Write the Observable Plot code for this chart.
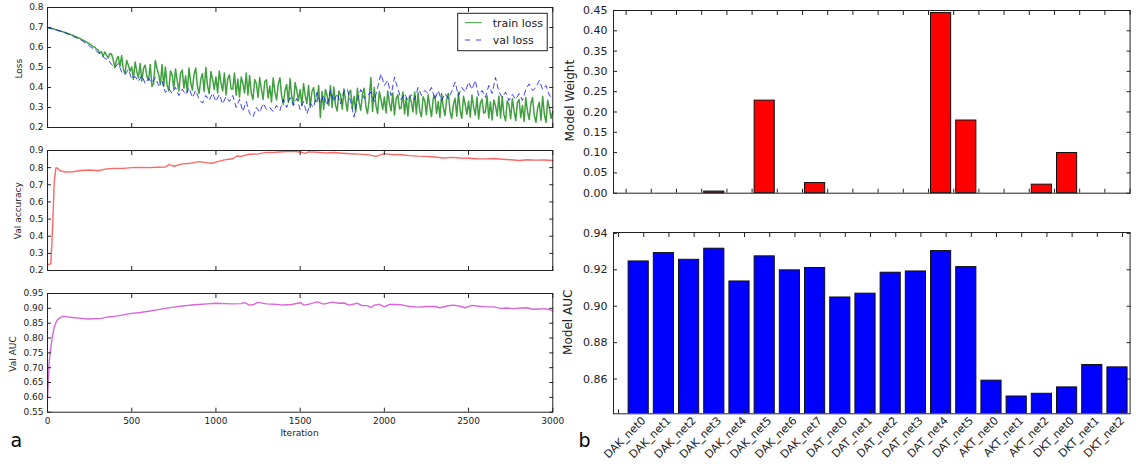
<!DOCTYPE html>
<html><head><meta charset="utf-8">
<script src="https://cdn.jsdelivr.net/npm/d3@7"></script>
<script src="https://cdn.jsdelivr.net/npm/@observablehq/plot@0.6"></script>
<style>
body{margin:0;background:#fff;}
#wrap{position:relative;width:1136px;height:466px;overflow:hidden;font-family:"DejaVu Sans",sans-serif;color:#222;background:#fff;}
#wrap svg{position:absolute;max-width:none;overflow:visible;}
</style></head><body><div id="wrap"></div>
<script>
// ---------- data ----------
const trainStep = 10;
const trainLoss = [
 0.700,0.698,0.696,0.694,0.692,0.689,0.687,0.684,0.682,0.679,
 0.676,0.674,0.670,0.668,0.664,0.661,0.657,0.654,0.649,0.647,
 0.641,0.637,0.633,0.627,0.624,0.616,0.613,0.604,0.602,0.592,
 0.588,0.572,0.580,0.556,0.578,0.562,0.548,0.570,0.566,0.538,
 0.499,0.541,0.555,0.505,0.560,0.493,0.469,0.535,0.511,0.481,
 0.504,0.440,0.528,0.480,0.448,0.520,0.432,0.496,0.512,0.456,
 0.435,0.515,0.405,0.420,0.535,0.495,0.465,0.415,0.515,0.405,
 0.503,0.413,0.383,0.483,0.463,0.393,0.493,0.433,0.383,0.473,
 0.487,0.397,0.457,0.377,0.497,0.427,0.387,0.467,0.497,0.407,
 0.370,0.440,0.470,0.380,0.500,0.410,0.370,0.480,0.440,0.390,
 0.453,0.373,0.483,0.423,0.383,0.473,0.363,0.443,0.463,0.393,
 0.392,0.472,0.362,0.442,0.352,0.452,0.422,0.372,0.472,0.362,
 0.460,0.370,0.340,0.440,0.420,0.350,0.450,0.390,0.340,0.430,
 0.438,0.348,0.408,0.328,0.448,0.378,0.338,0.418,0.448,0.358,
 0.315,0.385,0.415,0.325,0.445,0.355,0.315,0.425,0.385,0.335,
 0.390,0.310,0.420,0.360,0.320,0.410,0.300,0.380,0.400,0.330,
 0.330,0.410,0.250,0.380,0.290,0.390,0.360,0.310,0.410,0.300,
 0.402,0.312,0.282,0.382,0.362,0.292,0.392,0.332,0.282,0.372,
 0.386,0.296,0.356,0.276,0.396,0.326,0.286,0.366,0.396,0.306,
 0.270,0.340,0.450,0.280,0.400,0.310,0.270,0.380,0.340,0.290,
 0.353,0.273,0.383,0.323,0.283,0.373,0.263,0.343,0.363,0.293,
 0.298,0.378,0.268,0.348,0.258,0.358,0.328,0.278,0.378,0.268,
 0.374,0.284,0.254,0.354,0.334,0.264,0.364,0.304,0.254,0.344,
 0.360,0.270,0.330,0.250,0.370,0.300,0.260,0.340,0.370,0.280,
 0.246,0.316,0.346,0.256,0.376,0.286,0.246,0.356,0.316,0.266,
 0.332,0.252,0.362,0.302,0.262,0.352,0.242,0.322,0.342,0.272,
 0.278,0.358,0.248,0.328,0.238,0.338,0.308,0.258,0.358,0.248,
 0.354,0.264,0.234,0.334,0.314,0.244,0.344,0.284,0.234,0.324,
 0.340,0.250,0.310,0.230,0.350,0.280,0.240,0.320,0.350,0.260,
 0.226,0.296,0.326,0.236,0.356,0.266,0.226,0.336,0.296,0.246,
 0.280];
const valStep = 20;
const valLoss = [0.700,0.696,0.692,0.686,0.680,0.674,0.668,0.661,0.652,0.645,
 0.636,0.625,0.613,0.600,0.590,0.575,0.565,0.545,0.540,0.515,
 0.500,0.520,0.478,0.465,0.490,0.443,0.455,0.430,0.460,0.420,
 0.445,0.425,0.450,0.410,0.430,0.375,0.395,0.370,0.400,0.360,
 0.392,0.365,0.398,0.350,0.385,0.340,0.322,0.360,0.335,0.372,
 0.330,0.365,0.318,0.355,0.330,0.360,0.300,0.340,0.280,0.330,
 0.270,0.252,0.300,0.275,0.320,0.290,0.300,0.280,0.310,0.285,
 0.340,0.300,0.350,0.310,0.345,0.290,0.330,0.268,0.320,0.300,
 0.375,0.320,0.360,0.310,0.385,0.330,0.370,0.318,0.380,0.393,
 0.330,0.252,0.340,0.390,0.345,0.360,0.377,0.330,0.400,0.468,
 0.410,0.435,0.360,0.452,0.393,0.340,0.370,0.335,0.365,0.340,
 0.400,0.360,0.385,0.370,0.400,0.340,0.385,0.335,0.370,0.345,
 0.380,0.427,0.360,0.400,0.377,0.427,0.390,0.435,0.360,0.385,
 0.350,0.410,0.370,0.450,0.380,0.350,0.377,0.335,0.365,0.340,
 0.370,0.335,0.390,0.418,0.385,0.400,0.435,0.390,0.410,0.360,
 0.350];
const accIter = [0,10,20,30,40,50,60,75,100,150,200,250,300,350,400,450,500,550,600,650,700,720,750,800,850,900,950,975,1000,1050,1100,1125,1150,1200,1250,1300,1350,1400,1450,1500,1530,1550,1600,1650,1700,1750,1800,1850,1900,1950,2000,2050,2100,2150,2200,2250,2300,2350,2400,2450,2500,2550,2600,2650,2700,2750,2800,2850,2900,2950,3000];
const accVal = [0.235,0.235,0.240,0.450,0.720,0.800,0.795,0.782,0.775,0.776,0.783,0.786,0.782,0.793,0.796,0.796,0.800,0.801,0.800,0.802,0.804,0.818,0.808,0.822,0.826,0.835,0.828,0.824,0.832,0.845,0.852,0.868,0.866,0.878,0.880,0.889,0.890,0.893,0.895,0.891,0.883,0.892,0.890,0.886,0.888,0.884,0.881,0.879,0.876,0.866,0.882,0.876,0.875,0.870,0.867,0.866,0.862,0.856,0.860,0.856,0.855,0.852,0.851,0.853,0.849,0.846,0.842,0.846,0.844,0.845,0.842];
const aucIter = [0,5,10,20,30,40,50,60,75,90,110,150,200,240,280,320,360,400,450,500,550,600,650,700,750,800,850,900,950,1000,1050,1100,1150,1170,1200,1225,1250,1300,1350,1400,1450,1500,1525,1560,1600,1640,1690,1730,1760,1790,1840,1870,1900,1920,1940,1970,2000,2030,2070,2110,2150,2200,2250,2300,2330,2370,2410,2450,2480,2520,2560,2600,2650,2690,2730,2770,2810,2850,2880,2920,2950,2980,3000];
const aucVal = [0.595,0.660,0.720,0.770,0.810,0.837,0.852,0.862,0.869,0.873,0.872,0.869,0.866,0.864,0.865,0.866,0.871,0.873,0.878,0.883,0.886,0.890,0.895,0.900,0.904,0.908,0.911,0.913,0.915,0.917,0.916,0.915,0.916,0.919,0.911,0.913,0.920,0.915,0.914,0.911,0.913,0.919,0.911,0.915,0.922,0.914,0.921,0.917,0.918,0.911,0.917,0.909,0.909,0.902,0.911,0.913,0.905,0.913,0.913,0.911,0.906,0.904,0.906,0.906,0.902,0.908,0.911,0.907,0.902,0.910,0.907,0.905,0.905,0.900,0.901,0.899,0.901,0.902,0.897,0.898,0.899,0.896,0.891];

const modelNames = ["DAK_net0","DAK_net1","DAK_net2","DAK_net3","DAK_net4","DAK_net5","DAK_net6","DAK_net7","DAT_net0","DAT_net1","DAT_net2","DAT_net3","DAT_net4","DAT_net5","AKT_net0","AKT_net1","AKT_net2","DKT_net0","DKT_net1","DKT_net2"];
const modelWeight = [0,0,0,0.004,0,0.228,0,0.025,0,0,0,0,0.444,0.179,0,0,0.021,0.099,0,0];
const modelAUC = [0.9246,0.9292,0.9255,0.9316,0.9136,0.9274,0.9197,0.9210,0.9048,0.9069,0.9184,0.9191,0.9303,0.9215,0.8591,0.8504,0.8519,0.8554,0.8677,0.8664];

const iterTicks = [0,500,1000,1500,2000,2500,3000];
const lossTicks = [0.2,0.3,0.4,0.5,0.6,0.7,0.8];
const accTicks = [0.2,0.3,0.4,0.5,0.6,0.7,0.8,0.9];
const aucTicks = [0.55,0.60,0.65,0.70,0.75,0.80,0.85,0.90,0.95];
const weightTicks = [0,0.05,0.10,0.15,0.20,0.25,0.30,0.35,0.40,0.45];
const modelAucTicks = [0.86,0.88,0.90,0.92,0.94];

// ---------- helpers ----------
const wrap = document.getElementById("wrap");
const edge = "#222";
function panel(box, opts) {
  const {x0, x1, y0, y1, mL, mR, mT, mB, fs} = box;
  const svg = Plot.plot({
    width: x1 - x0 + mL + mR, height: y1 - y0 + mT + mB,
    marginLeft: mL, marginRight: mR, marginTop: mT, marginBottom: mB,
    style: {background: "transparent", fontFamily: "DejaVu Sans, sans-serif", fontSize: fs + "px", color: "#222", overflow: "visible"},
    ...opts
  });
  svg.style.left = (x0 - mL) + "px";
  svg.style.top = (y0 - mT) + "px";
  wrap.appendChild(svg);
}
const blank = () => "";
function inward(xt, yt) {
  return [
    Plot.axisX(xt, {anchor: "bottom", tickSize: -4, tickFormat: blank, label: null, stroke: edge}),
    Plot.axisX(xt, {anchor: "top", tickSize: -4, tickFormat: blank, label: null, stroke: edge}),
    Plot.axisY(yt, {anchor: "left", tickSize: -4, tickFormat: blank, label: null, stroke: edge}),
    Plot.axisY(yt, {anchor: "right", tickSize: -4, tickFormat: blank, label: null, stroke: edge}),
    Plot.frame({stroke: edge, strokeWidth: 1})
  ];
}
const trainData = trainLoss.map((v, i) => ({it: i * trainStep, v}));
const valData = valLoss.map((v, i) => ({it: i * valStep, v}));
const accData = accIter.map((it, i) => ({it, v: accVal[i]}));
const aucData = aucIter.map((it, i) => ({it, v: aucVal[i]}));
const rows = modelNames.map((name, i) => ({name, i, w: modelWeight[i], auc: modelAUC[i]}));

// ---------- panel a ----------
const leftX = {x0: 46.7, x1: 552, mL: 40, mR: 8, fs: 9};
panel({...leftX, y0: 7, y1: 127, mT: 6, mB: 6}, {
  x: {domain: [0, 3000]}, y: {domain: [0.2, 0.8]},
  marks: [
    Plot.line(trainData, {x: "it", y: "v", stroke: "#008000", strokeOpacity: 0.75, strokeWidth: 1.5}),
    Plot.line(valData, {x: "it", y: "v", stroke: "#0000ff", strokeOpacity: 0.75, strokeWidth: 1, strokeDasharray: "5,4"}),
    Plot.axisY(lossTicks, {anchor: "left", tickSize: 0, tickPadding: 4, tickFormat: d3.format(".1f"), label: null}),
    ...inward(iterTicks, lossTicks)
  ]
});
panel({...leftX, y0: 150, y1: 270, mT: 6, mB: 6}, {
  x: {domain: [0, 3000]}, y: {domain: [0.2, 0.9]},
  marks: [
    Plot.line(accData, {x: "it", y: "v", stroke: "#ff0000", strokeOpacity: 0.6, strokeWidth: 1.4}),
    Plot.axisY(accTicks, {anchor: "left", tickSize: 0, tickPadding: 4, tickFormat: d3.format(".1f"), label: null}),
    ...inward(iterTicks, accTicks)
  ]
});
panel({...leftX, y0: 293.3, y1: 412, mT: 6, mB: 24}, {
  x: {domain: [0, 3000]}, y: {domain: [0.55, 0.95]},
  marks: [
    Plot.line(aucData, {x: "it", y: "v", stroke: "#bf00bf", strokeOpacity: 0.6, strokeWidth: 1.4}),
    Plot.axisY(aucTicks, {anchor: "left", tickSize: 0, tickPadding: 4, tickFormat: d3.format(".2f"), label: null}),
    Plot.axisX(iterTicks, {anchor: "bottom", tickSize: 0, tickPadding: 5, tickFormat: d3.format("d"), label: null}),
    ...inward(iterTicks, aucTicks)
  ]
});

// ---------- panel b ----------
const rightX = {x0: 612.7, x1: 1129.3, mL: 52, mR: 6, fs: 11};
const xDom = [-1, 19.5];
const midTicks = d3.range(-0.5, 19.6, 1);
const barTicks = d3.range(-0.8, 19.3, 1);
const labelTicks = rows.map(d => d.i + 0.2);
panel({...rightX, y0: 10, y1: 192.7, mT: 6, mB: 6}, {
  x: {domain: xDom}, y: {domain: [0, 0.45]},
  marks: [
    Plot.rect(rows.filter(d => d.w > 0), {x1: d => d.i - 0.4, x2: d => d.i + 0.4, y1: 0, y2: "w", fill: "#ff0000", stroke: "#111", strokeWidth: 1}),
    Plot.axisY(weightTicks, {anchor: "left", tickSize: 0, tickPadding: 6, tickFormat: d3.format(".2f"), label: null}),
    ...inward(midTicks, weightTicks)
  ]
});
panel({...rightX, y0: 231.7, y1: 413, mT: 6, mB: 55}, {
  x: {domain: xDom}, y: {domain: [0.8409, 0.9405]},
  marks: [
    Plot.rect(rows, {x1: d => d.i - 0.4, x2: d => d.i + 0.4, y1: 0.8, y2: "auc", fill: "#0000ff", stroke: "#111", strokeWidth: 1, clip: true}),
    Plot.axisY(modelAucTicks, {anchor: "left", tickSize: 0, tickPadding: 6, tickFormat: d3.format(".2f"), label: null}),
    Plot.axisX(labelTicks, {anchor: "bottom", tickSize: 0, tickPadding: 5, tickRotate: -45, tickFormat: d => modelNames[Math.round(d - 0.2)], label: null}),
    ...inward(barTicks, modelAucTicks)
  ]
});

// ---------- annotations ----------
const ns = "http://www.w3.org/2000/svg";
const ann = document.createElementNS(ns, "svg");
ann.setAttribute("width", 1136); ann.setAttribute("height", 466);
ann.style.left = "0px"; ann.style.top = "0px";
ann.setAttribute("font-family", "DejaVu Sans, sans-serif");
ann.setAttribute("fill", "#222");
ann.innerHTML = `
<text transform="translate(19.3,68.7) rotate(-90)" text-anchor="middle" dy="0.35em" font-size="9">Loss</text>
<text transform="translate(18.3,210.7) rotate(-90)" text-anchor="middle" dy="0.35em" font-size="9">Val accuracy</text>
<text transform="translate(12.7,354) rotate(-90)" text-anchor="middle" dy="0.35em" font-size="9">Val AUC</text>
<text x="299.5" y="433" text-anchor="middle" dy="0.35em" font-size="9">Iteration</text>
<text transform="translate(569.5,100.7) rotate(-90)" text-anchor="middle" dy="0.35em" font-size="12">Model Weight</text>
<text transform="translate(568,322.3) rotate(-90)" text-anchor="middle" dy="0.35em" font-size="12">Model AUC</text>
<text x="10.5" y="447" font-size="19" fill="#000">a</text>
<text x="578.5" y="446.7" font-size="19" fill="#000">b</text>
<g transform="translate(457.7,13.3)">
  <rect x="0" y="0" width="89.5" height="37.4" fill="#fff" stroke="#222" stroke-width="1"/>
  <line x1="7.3" y1="9.4" x2="24" y2="9.4" stroke="#008000" stroke-opacity="0.8" stroke-width="1"/>
  <text x="35" y="13.4" font-size="11">train loss</text>
  <line x1="7.3" y1="26.7" x2="24" y2="26.7" stroke="#0000ff" stroke-opacity="0.75" stroke-width="1" stroke-dasharray="5,6"/>
  <text x="35" y="30.7" font-size="11">val loss</text>
</g>`;
wrap.appendChild(ann);
</script>
</body></html>
